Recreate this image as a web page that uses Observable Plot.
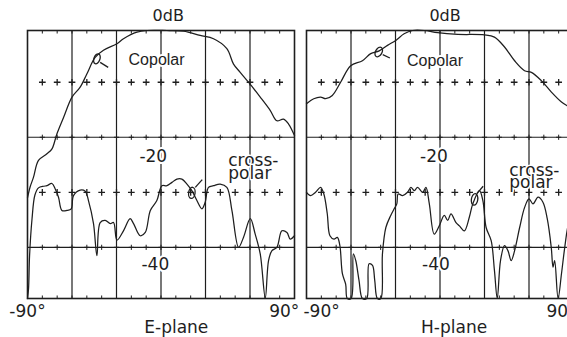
<!DOCTYPE html>
<html><head><meta charset="utf-8">
<script src="https://cdn.jsdelivr.net/npm/d3@7"></script>
<script src="https://cdn.jsdelivr.net/npm/@observablehq/plot@0.6"></script>
<style>
html,body{margin:0;padding:0;background:#fff;overflow:hidden;}
#chart{width:567px;height:337px;overflow:hidden;}
#chart svg{max-width:none !important;}
g[aria-label="plane-label"] text{letter-spacing:1.6px;}
</style></head><body><div id="chart"></div>
<script>
// ---------- data ----------
const planes = ["E-plane", "H-plane"];

const eCopolar = [[-90,-31],[-88.2,-29],[-86,-27.3],[-82.6,-24.2],[-76.9,-23],[-73.5,-22.1],[-70.2,-19.4],[-65.7,-16.4],[-60,-12.7],[-54.5,-10.9],[-50,-8.5],[-44.4,-5.5],[-38.8,-4.2],[-29.7,-3.0],[-25.3,-2.1],[-16.2,-0.9],[-9.5,-0.6],[4,-0.6],[15.2,-0.7],[26.4,-1.5],[35.4,-2.1],[44.4,-3.9],[48.9,-6.7],[53.4,-8.2],[59,-10],[66.9,-12.7],[73.6,-15.1],[78.1,-17],[82.6,-16.7],[86,-17.6],[90,-19.7]];

const eCrosspolar = [[-90,-49.3],[-89.3,-47.5],[-88.6,-41.5],[-87,-35],[-85,-30.5],[-82.6,-29.2],[-79,-28.9],[-76.9,-28.8],[-73.5,-28.4],[-71.3,-29.4],[-69.1,-30.9],[-66.8,-33.3],[-63.4,-33.3],[-60.5,-33],[-59,-30.6],[-54.5,-29.6],[-51.1,-29.8],[-48.9,-31.5],[-45.5,-35.7],[-43.2,-41.5],[-41,-35.5],[-37.6,-35.1],[-34.2,-35.7],[-32,-35.5],[-29.7,-38.7],[-25.3,-37],[-20.8,-34.8],[-18.5,-35.7],[-14,-37.9],[-10.6,-37.3],[-7.2,-33.3],[-2.8,-31.5],[0.6,-28.8],[4,-28.8],[7.4,-28.2],[10.7,-27.6],[14.1,-27.6],[17.5,-28.5],[20.8,-29.7],[24.2,-31.5],[27.6,-33],[29.8,-31.8],[32,-29.1],[35.4,-28.8],[39.9,-28.5],[44.4,-29.1],[47.8,-33.3],[52.3,-40],[55.6,-38.2],[60.2,-34.8],[63.5,-37.6],[66.9,-41.2],[70.3,-49.2],[72.5,-42.4],[74.8,-40.6],[78.1,-40],[81.5,-37],[84.9,-37.3],[87.1,-38.5],[90,-37.9]];

const hCopolar = [[-90,-13.9],[-85.1,-13.0],[-80.5,-12.7],[-77.1,-13.0],[-72.6,-12.4],[-67,-10],[-60.2,-7.0],[-52.3,-6.1],[-46.7,-4.8],[-41,-4.3],[-35.4,-3.3],[-29.8,-2.4],[-24.2,-1.2],[-18.5,-0.6],[-10.6,-0.6],[-1.6,-1.0],[11.9,-1.3],[29.9,-1.4],[36.7,-1.8],[43.5,-3.6],[50.3,-6.1],[57,-7.9],[61.6,-8.2],[68.3,-9.7],[75.1,-11.8],[81.9,-13.6],[86.4,-14.4],[90,-15]];

const hCrosspolar = [[-90,-30],[-87.3,-30.6],[-83.9,-30],[-80.5,-29.1],[-78.3,-30.3],[-76,-33.9],[-74.2,-37.9],[-71.5,-38.5],[-69.2,-38.2],[-67.5,-39.7],[-65.8,-44.8],[-63.6,-46.7],[-62.5,-49.3],[-59.9,-49.3],[-58.4,-41.2],[-56.8,-42.4],[-54.6,-46],[-52.3,-49.3],[-49.4,-49.3],[-47.8,-43],[-45.5,-43.3],[-44,-46],[-42.2,-49.3],[-39.9,-49.3],[-38.8,-41.2],[-36.5,-36.4],[-33.2,-34.2],[-30.9,-33],[-29.1,-32.1],[-28.2,-30.3],[-25.2,-30.6],[-21.9,-30],[-19.6,-29.1],[-17.4,-29.7],[-15.1,-29.1],[-11.7,-30],[-9.5,-29.1],[-7.2,-32.1],[-3.9,-37.6],[-0.5,-36.1],[2.9,-34.2],[5.2,-35.1],[7.4,-33.9],[10.8,-35.5],[13.1,-36.1],[16.4,-37],[19.8,-34.5],[22.1,-32.1],[26.6,-29.7],[28.9,-31.5],[31.1,-36.4],[34.5,-38.8],[36.7,-44.2],[38.6,-49.3],[40.8,-42.4],[43.5,-39.7],[45.8,-40.6],[48,-42.4],[50.3,-40.6],[53.7,-36.4],[57.1,-32.7],[60,-31.2],[62.7,-32.1],[66.1,-30.9],[69.4,-31.8],[72.3,-34.8],[75,-40],[76.2,-43.6],[77.3,-42.4],[79.6,-49.3],[81.9,-44.8],[84.1,-40],[86.6,-35.7],[90,-33]];

// grid
const gridAngles = [-60, -30, 0, 30, 60];
const tickAngles = [-80,-70,-60,-50,-40,-30,-20,-10,0,10,20,30,40,50,60,70,80];
const dottedLevels = [-10, -30];
const solidLevels = [-20, -40];
const frameTop = -0.6, frameBottom = -49.3;

// text labels
const levelLabels = [
  {plane:"E-plane", label:"0dB", angle:4.9, db:2.0, size:16},
  {plane:"H-plane", label:"0dB", angle:3.4, db:2.0, size:16},
  {plane:"E-plane", label:"-20", angle:-5.2, db:-23.5, size:17},
  {plane:"H-plane", label:"-20", angle:-4.1, db:-23.5, size:17},
  {plane:"E-plane", label:"-40", angle:-3.8, db:-43.2, size:17},
  {plane:"H-plane", label:"-40", angle:-2.7, db:-43.2, size:17}
];
const copolarLabels = [
  {plane:"E-plane", label:"Copolar", angle:-3.0, db:-6.0},
  {plane:"H-plane", label:"Copolar", angle:-3.4, db:-6.2}
];
const crossLabels = [
  {plane:"E-plane", label:"cross-", angle:45.3, db:-24.3},
  {plane:"E-plane", label:"polar", angle:45.3, db:-26.6},
  {plane:"H-plane", label:"cross-", angle:46.7, db:-26.0},
  {plane:"H-plane", label:"polar", angle:46.7, db:-28.3}
];
const rangeLabels = [
  {plane:"E-plane", label:"-90°", angle:-90, db:-51.6},
  {plane:"E-plane", label:"90°", angle:83.1, db:-51.6},
  {plane:"H-plane", label:"-90°", angle:-79.8, db:-51.6},
  {plane:"H-plane", label:"90°", angle:81.9, db:-51.6}
];
const planeLabels = [
  {plane:"E-plane", label:"E-plane", angle:10.3, db:-54.6},
  {plane:"H-plane", label:"H-plane", angle:9.5, db:-54.6}
];

// curve-identifying loops with leader tails
const loops = [
  {plane:"E-plane", angle:-43.2, db:-5.74, rx:3, ry:5.2, tilt:20, a1:-41.0, d1:-6.4, a2:-35.6, d2:-7.3},
  {plane:"E-plane", angle:20.8, db:-30.1, rx:3.2, ry:5.6, tilt:8, a1:23.1, d1:-29.1, a2:27.8, d2:-27.7},
  {plane:"H-plane", angle:-41.3, db:-4.5, rx:3.2, ry:5.2, tilt:30, a1:-38.6, d1:-5.0, a2:-33.8, d2:-5.6},
  {plane:"H-plane", angle:23.3, db:-31.3, rx:3.2, ry:5.8, tilt:8, a1:25, d1:-30.2, a2:29.1, d2:-28.9}
];

// ---------- build tables ----------
const rows = [];
function addSeries(plane, pol, arr) { for (const [a, d] of arr) rows.push({plane, pol, angle: a, db: d}); }
addSeries("E-plane", "copolar", eCopolar);
addSeries("E-plane", "crosspolar", eCrosspolar);
addSeries("H-plane", "copolar", hCopolar);
addSeries("H-plane", "crosspolar", hCrosspolar);

const plusRows = [];
for (const l of dottedLevels) for (const a of tickAngles) plusRows.push({angle: a, db: l});
const tickRows = [];
for (const l of solidLevels) for (const a of tickAngles) tickRows.push({angle: a, db: l});

function ellipseSymbol(rx, ry, deg) {
  const t = deg * Math.PI / 180, c = Math.cos(t), s = Math.sin(t), k = 0.5523;
  const R = (x, y) => [x * c - y * s, x * s + y * c];
  const pts = [[rx,0],[rx,ry*k],[rx*k,ry],[0,ry],[-rx*k,ry],[-rx,ry*k],[-rx,0],[-rx,-ry*k],[-rx*k,-ry],[0,-ry],[rx*k,-ry],[rx,-ry*k],[rx,0]].map(p => R(p[0], p[1]));
  return {draw(ctx) {
    ctx.moveTo(pts[0][0], pts[0][1]);
    for (let i = 1; i < pts.length; i += 3) ctx.bezierCurveTo(pts[i][0], pts[i][1], pts[i+1][0], pts[i+1][1], pts[i+2][0], pts[i+2][1]);
    ctx.closePath();
  }};
}

const ink = "#1e1e1e";
const lettering = "DejaVu Sans";

const chart = Plot.plot({
  width: 580,
  height: 337,
  marginLeft: 27,
  marginRight: 7,
  marginTop: 30,
  marginBottom: 39,
  style: {background: "#fff", color: ink, overflow: "visible", maxWidth: "none", width: "580px", height: "337px"},
  fx: {domain: planes, paddingInner: 12 / 279, paddingOuter: 0, axis: null, label: null},
  x: {domain: [-90, 90], axis: null},
  y: {domain: [frameBottom, frameTop], axis: null},
  marks: [
    Plot.ruleX(gridAngles, {stroke: ink, strokeWidth: 1.2}),
    Plot.ruleY(solidLevels, {stroke: ink, strokeWidth: 1.2}),
    Plot.dot(plusRows, {x: "angle", y: "db", symbol: "plus", r: 2.3, stroke: ink, strokeWidth: 1.3}),
    Plot.dot(tickRows, {x: "angle", y: "db", symbol: "plus", r: 1.8, stroke: ink, strokeWidth: 1}),
    Plot.link(tickAngles, {x1: d => d, x2: d => d, y1: () => frameTop, y2: () => frameTop - 0.55, stroke: ink, strokeWidth: 1}),
    Plot.link(tickAngles, {x1: d => d, x2: d => d, y1: () => frameBottom, y2: () => frameBottom + 0.55, stroke: ink, strokeWidth: 1}),
    Plot.frame({stroke: ink, strokeWidth: 1.6}),
    // labels with white backing (hide grid lines behind them)
    Plot.text(levelLabels, {fx: "plane", x: "angle", y: "db", text: "label", fontSize: d => d.size, fontFamily: lettering, fill: ink, stroke: "white", strokeWidth: 4, lineAnchor: "middle"}),
    Plot.text(copolarLabels, {fx: "plane", x: "angle", y: "db", text: "label", fontSize: 16, fontFamily: "Liberation Sans", fill: ink, stroke: "white", strokeWidth: 4, lineAnchor: "middle"}),
    Plot.text(crossLabels, {fx: "plane", x: "angle", y: "db", text: "label", fontSize: 17, fontFamily: lettering, textAnchor: "start", fill: ink, stroke: "white", strokeWidth: 3, lineAnchor: "middle"}),
    Plot.text(rangeLabels, {fx: "plane", x: "angle", y: "db", text: "label", fontSize: 17, fontFamily: lettering, fill: ink, lineAnchor: "middle"}),
    Plot.text(planeLabels, {fx: "plane", x: "angle", y: "db", text: "label", fontSize: 17, fontFamily: lettering, fill: ink, lineAnchor: "middle", ariaLabel: "plane-label"}),
    // curves
    Plot.line(rows, {fx: "plane", x: "angle", y: "db", z: "pol", stroke: ink, strokeWidth: 1.25, curve: "catmull-rom"}),
    // loops + tails
    ...loops.map(l => Plot.dot([l], {fx: "plane", x: "angle", y: "db", symbol: ellipseSymbol(l.rx, l.ry, l.tilt), r: 4, stroke: ink, strokeWidth: 1.3, fill: "none"})),
    Plot.link(loops, {fx: "plane", x1: "a1", y1: "d1", x2: "a2", y2: "d2", stroke: ink, strokeWidth: 1.3})
  ]
});
document.getElementById("chart").appendChild(chart);
</script>
</body></html>
